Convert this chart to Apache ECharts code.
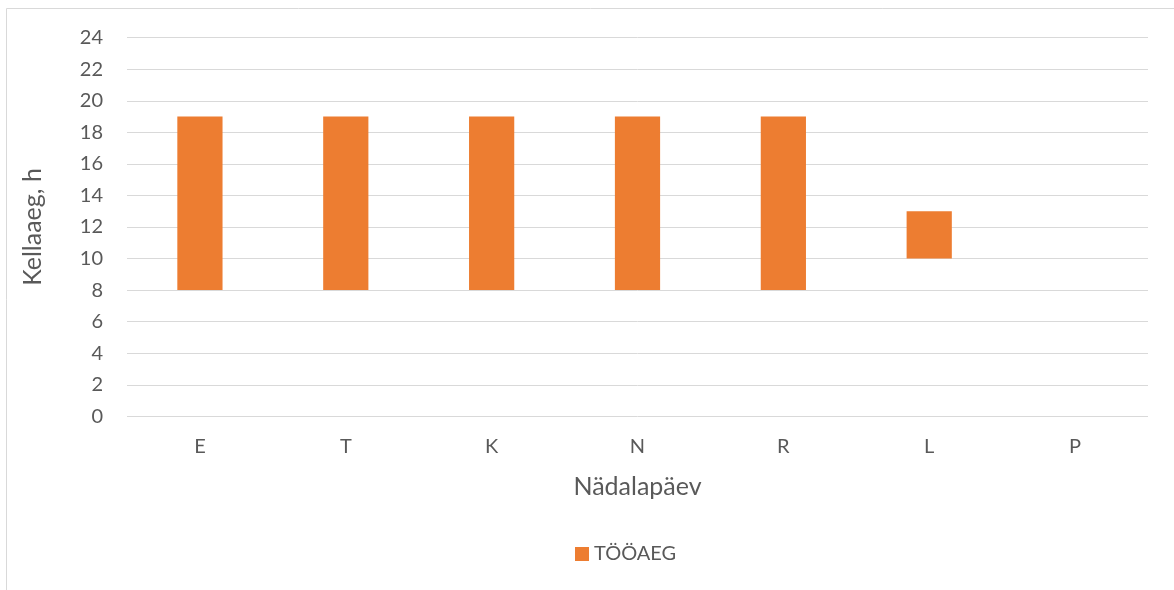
<!DOCTYPE html>
<html>
<head>
<meta charset="utf-8">
<script src="https://cdn.jsdelivr.net/npm/echarts@6/dist/echarts.min.js"></script>
<style>
  html, body { margin: 0; padding: 0; background: #fff; }
  #chart { width: 1174px; height: 590px; }
</style>
</head>
<body>
<div id="chart"></div>
<script>
// Weekday working hours: start and end time of each day
const days = ['E', 'T', 'K', 'N', 'R', 'L', 'P'];
const startHour = [8, 8, 8, 8, 8, 10, null];
const endHour = [19, 19, 19, 19, 19, 13, null];
const yTicks = [0, 2, 4, 6, 8, 10, 12, 14, 16, 18, 20, 22, 24];

// Visible bar height = working time; an invisible bar below lifts it to the start hour
const duration = endHour.map((e, i) => (e == null || startHour[i] == null) ? null : e - startHour[i]);

const FONT = 'Lato, "Open Sans", sans-serif';
const TEXT = '#595959';

const chart = echarts.init(document.getElementById('chart'));
chart.setOption({
  animation: false,
  textStyle: { fontFamily: FONT },
  graphic: [{
    type: 'rect',
    shape: { x: 6.5, y: 8.5, width: 1200, height: 600 },
    style: { fill: 'none', stroke: '#D9D9D9', lineWidth: 1 },
    silent: true
  }],
  grid: { left: 127, right: 26, top: 37.7, bottom: 173.7, containLabel: false },
  legend: {
    data: ['TÖÖAEG'],
    top: 544,
    left: 575,
    padding: 0,
    itemWidth: 14,
    itemHeight: 14,
    textStyle: { color: TEXT, fontSize: 20, fontFamily: FONT },
    icon: 'rect'
  },
  xAxis: {
    type: 'category',
    data: days,
    name: 'Nädalapäev',
    nameLocation: 'middle',
    nameGap: 58,
    nameTextStyle: { color: TEXT, fontSize: 25, fontFamily: FONT },
    axisLine: { show: false },
    axisTick: { show: false },
    axisLabel: { color: TEXT, fontSize: 20, margin: 20, fontFamily: FONT }
  },
  yAxis: {
    type: 'value',
    min: yTicks[0],
    max: yTicks[yTicks.length - 1],
    interval: 2,
    name: 'Kellaaeg, h',
    nameLocation: 'middle',
    nameGap: 82,
    nameRotate: 90,
    nameTextStyle: { color: TEXT, fontSize: 25, fontFamily: FONT },
    axisLine: { show: false },
    axisTick: { show: false },
    axisLabel: { color: TEXT, fontSize: 20, margin: 24, fontFamily: FONT },
    splitLine: { lineStyle: { color: '#D9D9D9', width: 1 } }
  },
  series: [
    {
      name: 'start',
      type: 'bar',
      stack: 'day',
      data: startHour,
      barWidth: '31%',
      itemStyle: { color: 'transparent' },
      silent: true
    },
    {
      name: 'TÖÖAEG',
      type: 'bar',
      stack: 'day',
      data: duration,
      barWidth: '31%',
      itemStyle: { color: '#ED7D31' }
    }
  ]
});
</script>
</body>
</html>
